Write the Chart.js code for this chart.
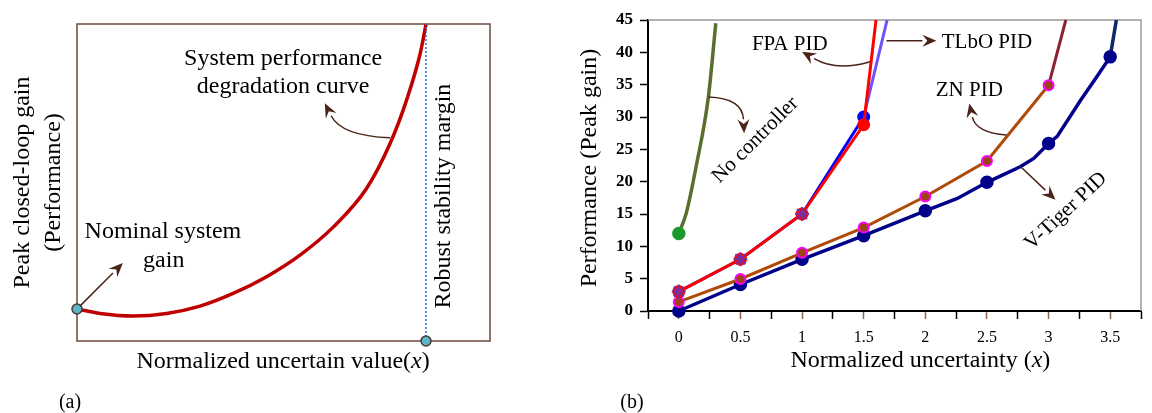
<!DOCTYPE html>
<html>
<head>
<meta charset="utf-8">
<script src="https://cdn.jsdelivr.net/npm/chart.js@4.4.1/dist/chart.umd.min.js"></script>
<style>
  html, body { margin: 0; padding: 0; background: #fff; }
  #wrapA { position: absolute; left: 0; top: 0; width: 560px; height: 413px; }
  #wrapB { position: absolute; left: 560px; top: 0; width: 592px; height: 413px; }
</style>
</head>
<body>
<div id="wrapA"><canvas id="chartA" width="560" height="413"></canvas></div>
<div id="wrapB"><canvas id="chartB" width="592" height="413"></canvas></div>
<script>
// --- DONNÉES (a) : courbe conceptuelle, axes normalisés 0..1 ---
const degX = [0, 0.056, 0.136, 0.217, 0.298, 0.378, 0.459, 0.54, 0.621, 0.701, 0.758, 0.798, 0.831, 0.845];
const degY = [0.101, 0.087, 0.079, 0.087, 0.110, 0.150, 0.203, 0.271, 0.360, 0.481, 0.623, 0.760, 0.907, 0.999];
const marginX = [0.845, 0.845];
const marginY = [0, 1];

// --- DONNÉES (b) ---
const xTickVals = [0, 0.5, 1, 1.5, 2, 2.5, 3, 3.5];
const yTickVals = [0, 5, 10, 15, 20, 25, 30, 35, 40, 45];

const noCtrlX = [0, 0.06, 0.14, 0.24, 0.3];
const noCtrlY = [12, 15.1, 22.3, 33.1, 44.5];

const fpaX = [0, 0.5, 1, 1.5, 1.6];
const fpaY = [3, 8, 15, 28.8, 45];

const tlboX = [0, 0.5, 1, 1.5, 1.69];
const tlboY = [3, 8, 15, 30, 45];

const znX = [0, 0.5, 1, 1.5, 2, 2.5, 3, 3.14];
const znY = [1.4, 4.95, 9, 12.9, 17.7, 23.2, 34.9, 45];

const vtX = [0, 0.5, 1, 1.5, 2, 2.26, 2.5, 2.77, 2.88, 3, 3.07, 3.26, 3.39, 3.5, 3.55];
const vtY = [0, 4.1, 8, 11.65, 15.5, 17.4, 19.9, 22.3, 23.6, 25.9, 27, 32.6, 36.2, 39.3, 45];

const serif = '"Liberation Serif", "Times New Roman", serif';
const arrowColor = '#4A2418';

const pts = (xs, ys) => xs.map((v, i) => ({ x: v, y: ys[i] }));
const isHalf = v => xTickVals.some(t => Math.abs(t - v) < 1e-6);

// --- UTILS DESSIN ---
function txt(ctx, s, x, y, size, angle, align) {
    ctx.save();
    ctx.translate(x, y);
    ctx.rotate((angle || 0) * Math.PI / 180);
    ctx.font = `${size}px ${serif}`;
    ctx.fillStyle = '#000';
    ctx.textAlign = align || 'center';
    ctx.textBaseline = 'alphabetic';
    ctx.fillText(s, 0, 0);
    ctx.restore();
}

// texte avec morceaux en italique, centré sur cx
function runs(ctx, parts, cx, y, size) {
    let w = 0;
    parts.forEach(p => {
        ctx.font = `${p[1] ? 'italic ' : ''}${size}px ${serif}`;
        w += ctx.measureText(p[0]).width;
    });
    let x = cx - w / 2;
    ctx.fillStyle = '#000';
    ctx.textAlign = 'left';
    ctx.textBaseline = 'alphabetic';
    parts.forEach(p => {
        ctx.font = `${p[1] ? 'italic ' : ''}${size}px ${serif}`;
        ctx.fillText(p[0], x, y);
        x += ctx.measureText(p[0]).width;
    });
}

// flèche : p = [start, (ctrl), tip] en pixels
function arrow(ctx, p, head) {
    const s = p[0], t = p[p.length - 1], c = p.length > 2 ? p[1] : s;
    const ang = Math.atan2(t[1] - c[1], t[0] - c[0]);
    const L = head || 14, W = 6;
    const bx = t[0] - L * Math.cos(ang), by = t[1] - L * Math.sin(ang);
    ctx.save();
    ctx.strokeStyle = arrowColor;
    ctx.fillStyle = arrowColor;
    ctx.lineWidth = 1.5;
    ctx.beginPath();
    ctx.moveTo(s[0], s[1]);
    if (p.length > 2) ctx.quadraticCurveTo(c[0], c[1], bx, by);
    else ctx.lineTo(bx, by);
    ctx.stroke();
    ctx.beginPath();
    ctx.moveTo(t[0], t[1]);
    ctx.lineTo(bx + W * Math.sin(ang), by - W * Math.cos(ang));
    ctx.lineTo(bx + 0.35 * L * Math.cos(ang), by + 0.35 * L * Math.sin(ang));
    ctx.lineTo(bx - W * Math.sin(ang), by + W * Math.cos(ang));
    ctx.closePath();
    ctx.fill();
    ctx.restore();
}

// --- A. GRAPHIQUE (a) ---
const plugA = {
    id: 'plugA',
    beforeDatasetsDraw(chart) {
        const ctx = chart.ctx, ca = chart.chartArea;
        ctx.save();
        ctx.strokeStyle = '#6B4A3E';
        ctx.lineWidth = 1.5;
        ctx.strokeRect(ca.left, ca.top, ca.right - ca.left, ca.bottom - ca.top);
        ctx.restore();
    },
    afterDraw(chart) {
        const ctx = chart.ctx, ca = chart.chartArea;
        const X = v => chart.scales.x.getPixelForValue(v);
        const Y = v => chart.scales.y.getPixelForValue(v);
        const P = (a, b) => [X(a), Y(b)];

        txt(ctx, 'Peak closed-loop gain', ca.left - 48, (ca.top + ca.bottom) / 2, 24, -90);
        txt(ctx, '(Performance)', ca.left - 17, (ca.top + ca.bottom) / 2, 24, -90);
        runs(ctx, [['Normalized uncertain value('], ['x', true], [')']], X(0.499), ca.bottom + 27, 24);
        txt(ctx, '(a)', ca.left - 7, 408, 20);

        txt(ctx, 'System performance', X(0.499), Y(0.871), 24);
        txt(ctx, 'degradation curve', X(0.499), Y(0.782), 24);
        txt(ctx, 'Nominal system', X(0.208), Y(0.325), 24);
        txt(ctx, 'gain', X(0.21), Y(0.234), 24);
        txt(ctx, 'Robust stability margin', X(0.884) + 8, Y(0.457), 24, -90);

        arrow(ctx, [P(0.007, 0.11), P(0.111, 0.246)]);
        arrow(ctx, [P(0.758, 0.641), P(0.64, 0.647), P(0.6, 0.75)]);
    }
};

new Chart(document.getElementById('chartA'), {
    type: 'line',
    data: {
        datasets: [
            {
                data: pts(degX, degY), borderColor: '#C00000', borderWidth: 3.5,
                cubicInterpolationMode: 'monotone', clip: false, order: 1,
                pointRadius: c => c.dataIndex === 0 ? 5 : 0,
                pointBackgroundColor: '#5BB5C8', pointBorderColor: '#4A3A30', pointBorderWidth: 1.5
            },
            {
                data: pts(marginX, marginY), borderColor: '#1E6FFF', borderWidth: 1.5,
                borderDash: [2, 2], clip: false, order: 0,
                pointRadius: c => c.dataIndex === 0 ? 5 : 0,
                pointBackgroundColor: '#5BB5C8', pointBorderColor: '#4A3A30', pointBorderWidth: 1.5
            }
        ]
    },
    options: {
        responsive: false, animation: false,
        layout: { padding: { left: 77, top: 24, right: 70, bottom: 72 } },
        plugins: { legend: { display: false }, tooltip: { enabled: false } },
        scales: {
            x: { type: 'linear', min: 0, max: 1, display: false },
            y: { type: 'linear', min: 0, max: 1, display: false }
        }
    },
    plugins: [plugA]
});

// --- B. GRAPHIQUE (b) ---
const plugB = {
    id: 'plugB',
    beforeDatasetsDraw(chart) {
        const ctx = chart.ctx, ca = chart.chartArea;
        ctx.save();
        ctx.strokeStyle = '#999';
        ctx.lineWidth = 1.5;
        ctx.beginPath();
        ctx.moveTo(ca.left, ca.top);
        ctx.lineTo(ca.right, ca.top);
        ctx.lineTo(ca.right, ca.bottom);
        ctx.stroke();
        ctx.restore();
    },
    afterDraw(chart) {
        const ctx = chart.ctx, ca = chart.chartArea;
        const X = v => chart.scales.x.getPixelForValue(v);
        const Y = v => chart.scales.y.getPixelForValue(v);
        const P = (a, b) => [X(a), Y(b)];

        txt(ctx, 'Performance (Peak gain)', ca.left - 52, Y(22.1), 24, -90);
        runs(ctx, [['Normalized uncertainty ('], ['x', true], [')']], X(1.96), ca.bottom + 56, 24);
        txt(ctx, '(b)', ca.left - 16, 408, 20);

        txt(ctx, 'FPA PID', X(0.9), Y(41.6) + 8, 21);
        txt(ctx, 'TLbO PID', X(2.5), Y(41.9) + 8, 21);
        txt(ctx, 'ZN PID', X(2.357), Y(34.5) + 8, 21);
        txt(ctx, 'No controller', X(0.613) + 5, Y(26.6) + 5, 21, -45);
        txt(ctx, 'V-Tiger PID', X(3.13) + 5, Y(15.6) + 5, 21, -43);

        arrow(ctx, [P(0.24, 33.1), P(0.516, 32.9), P(0.53, 27.5)]);
        arrow(ctx, [P(1.551, 38.55), P(1.28, 37.0), P(1.0, 40.1)]);
        arrow(ctx, [P(1.685, 41.8), P(2.09, 41.8)]);
        arrow(ctx, [P(2.659, 27.2), P(2.41, 27.6), P(2.357, 32.1)]);
        arrow(ctx, [P(2.774, 22.3), P(3.056, 17.2)]);
    }
};

new Chart(document.getElementById('chartB'), {
    type: 'line',
    data: {
        datasets: [
            {
                label: 'No controller', data: pts(noCtrlX, noCtrlY), order: 5,
                borderColor: '#5A6E2E', borderWidth: 3.5, cubicInterpolationMode: 'monotone', clip: false,
                pointRadius: c => c.dataIndex === 0 ? 5 : 0,
                pointBackgroundColor: '#1A9A2A', pointBorderColor: '#1A9A2A'
            },
            {
                label: 'V-Tiger PID', data: pts(vtX, vtY), order: 4,
                borderColor: '#00008B', borderWidth: 3.5, clip: false,
                segment: { borderColor: c => c.p0.parsed.x >= 3.5 - 1e-6 ? '#0B2A66' : '#00008B' },
                pointRadius: c => isHalf(vtX[c.dataIndex]) ? 5 : 0,
                pointBackgroundColor: '#00008B', pointBorderColor: '#00008B'
            },
            {
                label: 'ZN PID', data: pts(znX, znY), order: 3,
                borderColor: '#B04A08', borderWidth: 3, clip: false,
                segment: { borderColor: c => c.p0.parsed.x >= 3 - 1e-6 ? '#8B2232' : '#B04A08' },
                pointRadius: c => isHalf(znX[c.dataIndex]) ? 5 : 0,
                pointBackgroundColor: '#9B4410', pointBorderColor: '#FF00FF', pointBorderWidth: 2
            },
            {
                label: 'TLbO PID', data: pts(tlboX, tlboY), order: 2,
                borderColor: '#0000FF', borderWidth: 3, clip: false,
                segment: { borderColor: c => c.p0.parsed.x >= 1.5 - 1e-6 ? '#7050FF' : '#0000FF' },
                pointRadius: c => c.dataIndex === 3 ? 5 : 0,
                pointBackgroundColor: '#0000FF', pointBorderColor: '#0000FF'
            },
            {
                label: 'FPA PID', data: pts(fpaX, fpaY), order: 1,
                borderColor: '#FF0000', borderWidth: 3, clip: false,
                pointRadius: c => isHalf(fpaX[c.dataIndex]) ? 5 : 0,
                pointBackgroundColor: '#FF0000', pointBorderColor: '#FF0000'
            },
            {
                label: 'TLbO marqueurs', data: pts(tlboX.slice(0, 3), tlboY.slice(0, 3)), order: 0,
                showLine: false, clip: false, pointStyle: 'star', pointRadius: 7,
                pointBorderColor: '#7A2FA0', pointBorderWidth: 2
            }
        ]
    },
    options: {
        responsive: false, animation: false,
        layout: { padding: { left: 0, top: 20, right: 11, bottom: 0 } },
        plugins: { legend: { display: false }, tooltip: { enabled: false } },
        scales: {
            x: {
                type: 'linear', min: -0.25, max: 3.75,
                afterFit: s => { s.height = 102; },
                border: { display: true, color: '#000', width: 2 },
                grid: {
                    drawOnChartArea: false, drawTicks: true, tickLength: 8, tickWidth: 1.5,
                    tickColor: c => isHalf(c.tick.value) ? 'rgba(110,60,40,0.8)' : '#000'
                },
                ticks: {
                    stepSize: 0.25, autoSkip: false, maxRotation: 0, padding: 9, color: '#000',
                    font: { family: serif, size: 16 },
                    callback: v => isHalf(v) ? String(xTickVals.find(t => Math.abs(t - v) < 1e-6)) : ''
                }
            },
            y: {
                type: 'linear', min: 0, max: 45,
                afterFit: s => { s.width = 88; },
                border: { display: true, color: '#000', width: 2 },
                grid: { drawOnChartArea: false, drawTicks: true, tickLength: 8, tickWidth: 1.5, tickColor: '#000' },
                afterBuildTicks: s => { s.ticks = yTickVals.map(v => ({ value: v })); },
                ticks: {
                    padding: 7, color: '#000',
                    font: { family: serif, size: 17, weight: 'bold' }
                }
            }
        }
    },
    plugins: [plugB]
});
</script>
</body>
</html>
